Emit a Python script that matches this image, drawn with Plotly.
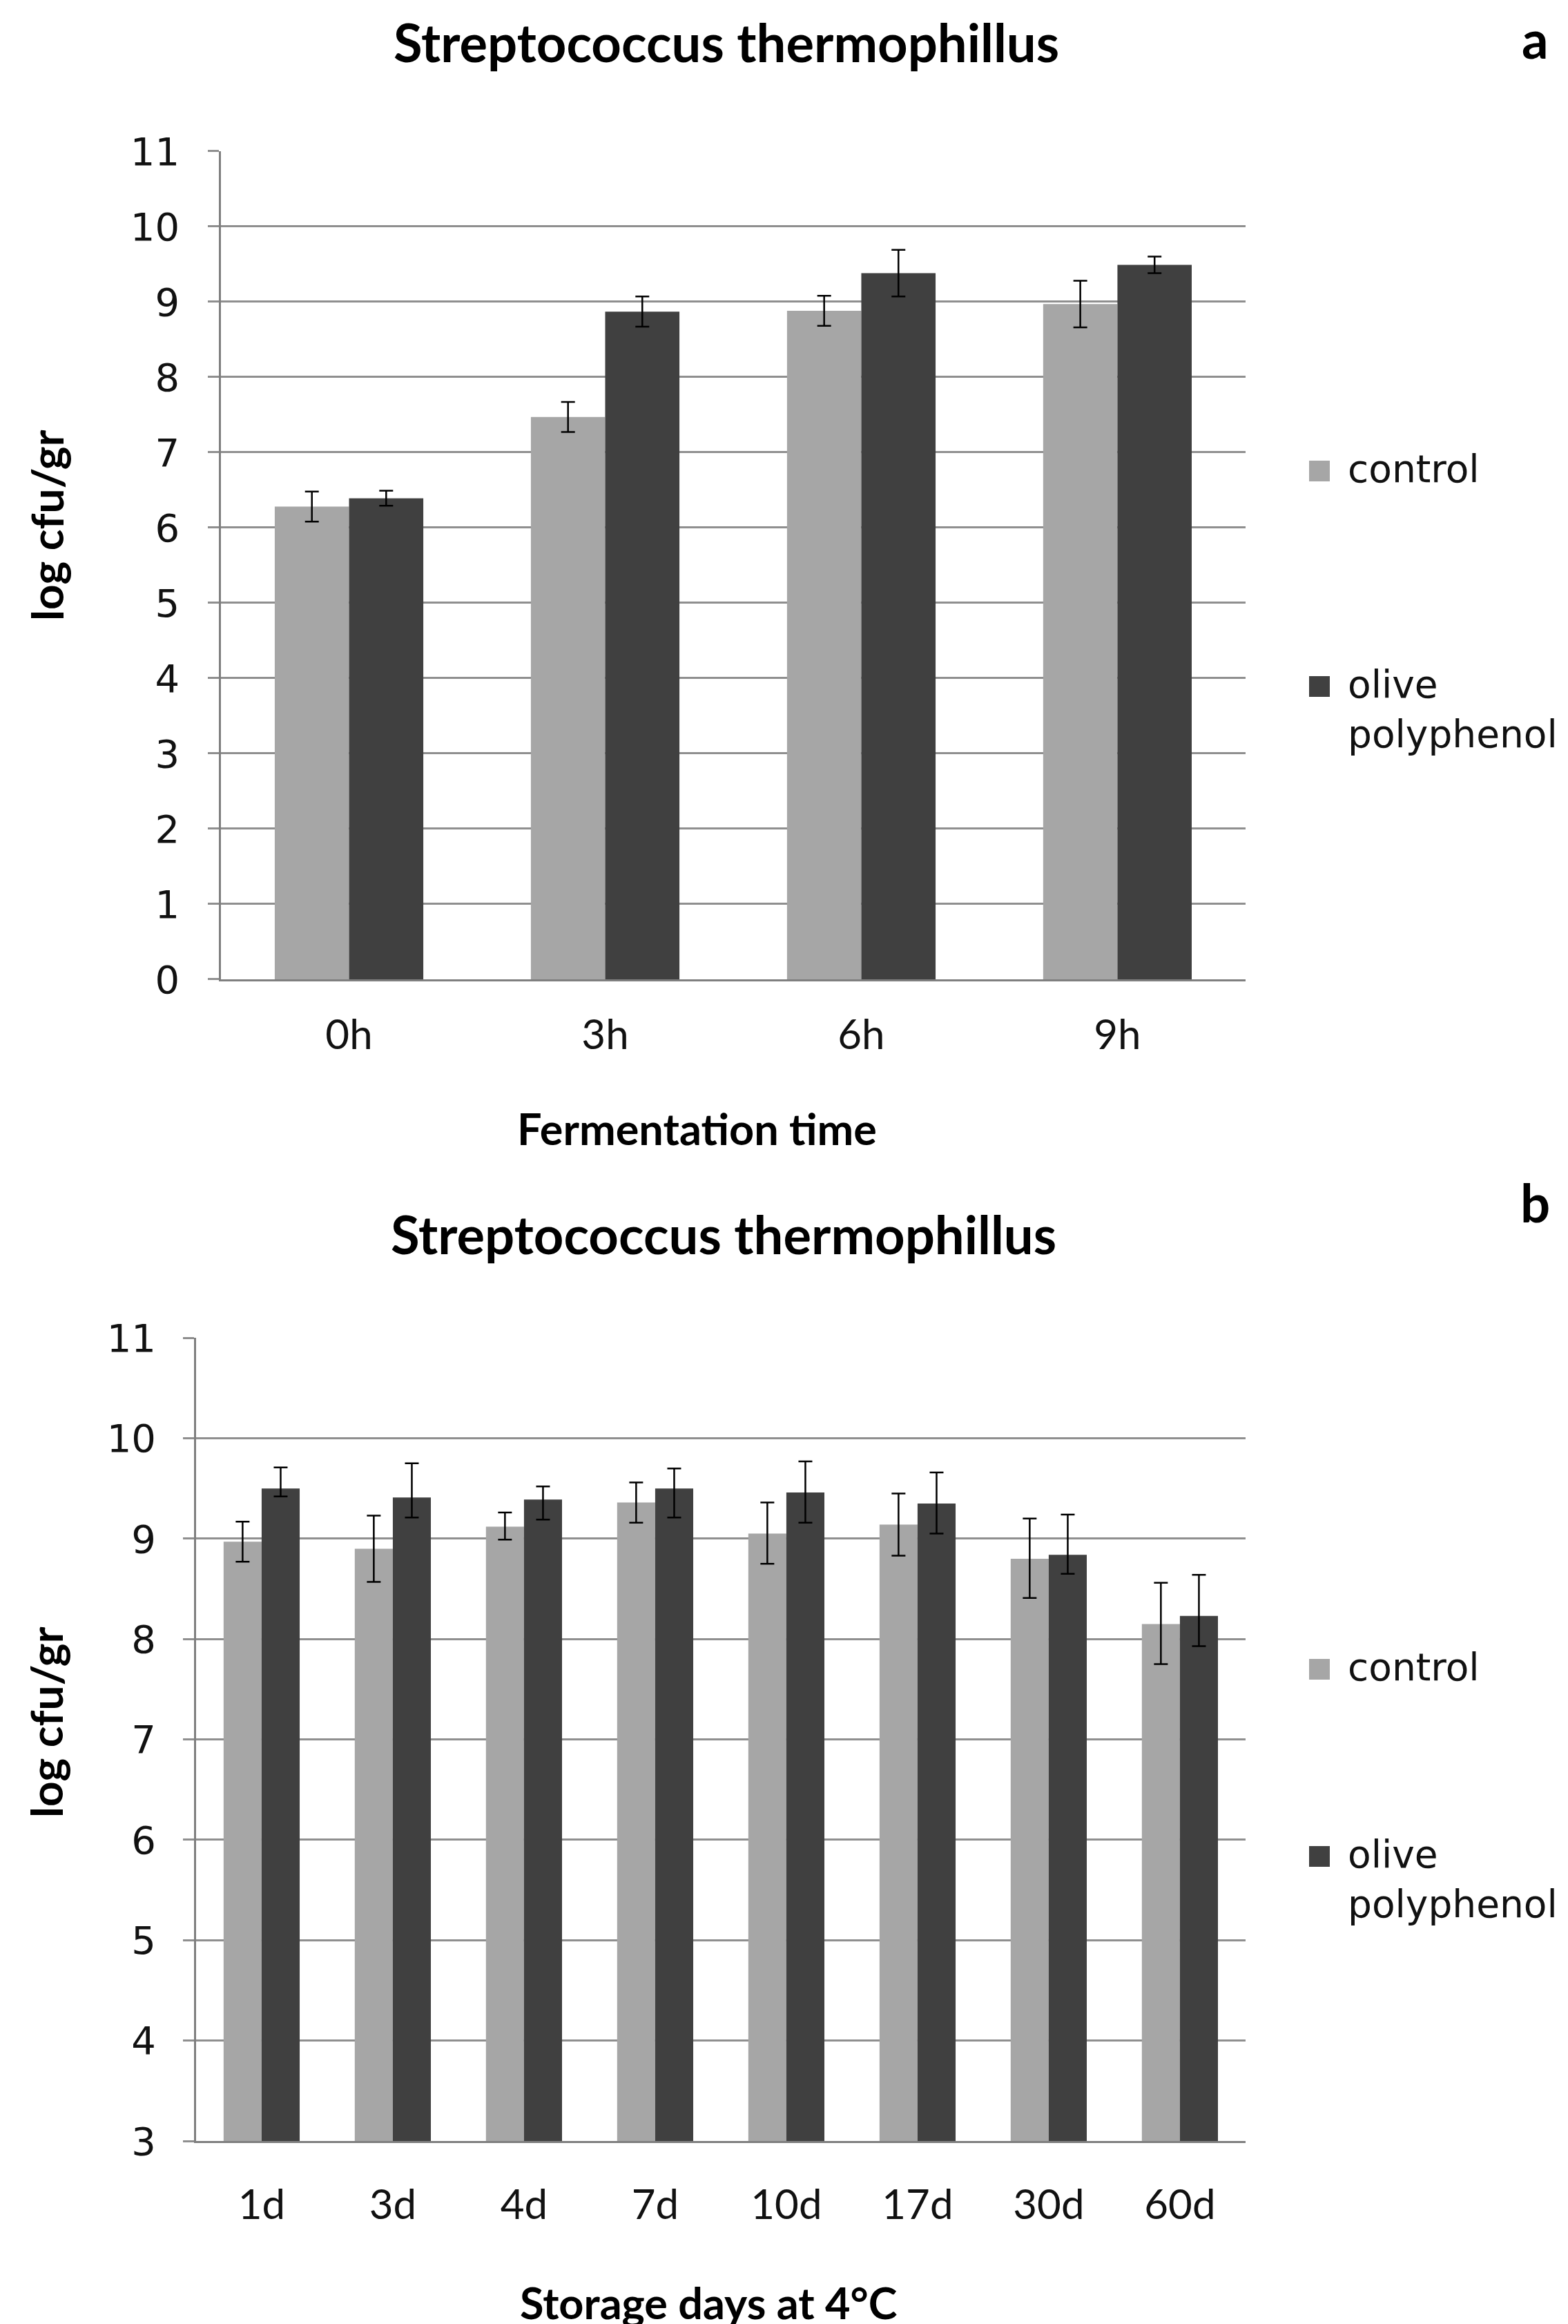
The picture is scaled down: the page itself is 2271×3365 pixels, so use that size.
import plotly.graph_objects as go

# ---------------- data ----------------
fermentation_times = ["0h", "3h", "6h", "9h"]
ferm_control = [6.28, 7.47, 8.88, 8.97]
ferm_control_err = [0.20, 0.20, 0.20, 0.31]
ferm_olive = [6.39, 8.87, 9.38, 9.49]
ferm_olive_err = [0.10, 0.20, 0.31, 0.11]

storage_days = ["1d", "3d", "4d", "7d", "10d", "17d", "30d", "60d"]
stor_control = [8.97, 8.90, 9.12, 9.36, 9.05, 9.14, 8.80, 8.15]
stor_control_err_plus = [0.20, 0.33, 0.14, 0.20, 0.31, 0.31, 0.40, 0.41]
stor_control_err_minus = [0.20, 0.33, 0.13, 0.20, 0.30, 0.31, 0.39, 0.40]
stor_olive = [9.50, 9.41, 9.39, 9.50, 9.46, 9.35, 8.84, 8.23]
stor_olive_err_plus = [0.21, 0.34, 0.13, 0.20, 0.31, 0.31, 0.40, 0.41]
stor_olive_err_minus = [0.08, 0.20, 0.20, 0.29, 0.30, 0.30, 0.19, 0.30]

series_names = ["control", "olive<br>polyphenol"]
series_colors = ["#a6a6a6", "#404040"]

panel_title = "Streptococcus thermophillus"
y_title = "log cfu/gr"
x_title_a = "Fermentation time"
x_title_b = "Storage days at 4°C"

# ---------------- styling ----------------
W, H = 2271, 3365
NARROW = "Liberation Sans Narrow, Arial Narrow, Lato, sans-serif"
WIDE = "DejaVu Sans, Verdana, sans-serif"
GRID = "#8f8f8f"
AXIS = "#7f7f7f"
TXT = "#111111"

def err(plus, minus=None):
    d = dict(type="data", array=plus, color="black", thickness=2.5, width=10)
    if minus is not None:
        d.update(symmetric=False, arrayminus=minus)
    return d

fig = go.Figure()

# panel a
fig.add_trace(go.Bar(x=fermentation_times, y=ferm_control, name=series_names[0],
                     marker=dict(color=series_colors[0], line=dict(width=0)),
                     error_y=err(ferm_control_err), xaxis="x", yaxis="y",
                     showlegend=False))
fig.add_trace(go.Bar(x=fermentation_times, y=ferm_olive, name=series_names[1],
                     marker=dict(color=series_colors[1], line=dict(width=0)),
                     error_y=err(ferm_olive_err), xaxis="x", yaxis="y",
                     showlegend=False))
# panel b
fig.add_trace(go.Bar(x=storage_days, y=stor_control, name=series_names[0],
                     marker=dict(color=series_colors[0], line=dict(width=0)),
                     error_y=err(stor_control_err_plus, stor_control_err_minus),
                     xaxis="x2", yaxis="y2", showlegend=False))
fig.add_trace(go.Bar(x=storage_days, y=stor_olive, name=series_names[1],
                     marker=dict(color=series_colors[1], line=dict(width=0)),
                     error_y=err(stor_olive_err_plus, stor_olive_err_minus),
                     xaxis="x2", yaxis="y2", showlegend=False))

xaxis_common = dict(showline=True, linecolor=AXIS, linewidth=2.5, ticks="",
                    showgrid=False, zeroline=False,
                    tickfont=dict(family=NARROW, size=60, color=TXT))
yaxis_common = dict(showline=True, linecolor=AXIS, linewidth=2.5, dtick=1,
                    showgrid=True, gridcolor=GRID, gridwidth=2.5, zeroline=False,
                    ticks="outside", ticklen=16, tickcolor=GRID, tickwidth=2.5,
                    tickfont=dict(family=WIDE, size=56, color=TXT))

fig.update_layout(
    width=W, height=H,
    margin=dict(l=0, r=0, t=0, b=0),
    paper_bgcolor="white", plot_bgcolor="white",
    template="none",
    barmode="group", bargap=0.42, bargroupgap=0,
    showlegend=False,
    xaxis=dict(domain=[0.1374, 0.7908], anchor="y", ticklabelstandoff=26, **xaxis_common),
    yaxis=dict(domain=[0.5810, 0.9373], anchor="x", range=[0, 11],
               ticklabelstandoff=30, **yaxis_common),
    xaxis2=dict(domain=[0.1215, 0.7908], anchor="y2", ticklabelstandoff=38, **xaxis_common),
    yaxis2=dict(domain=[0.0811, 0.4267], anchor="x2", range=[3, 11],
                ticklabelstandoff=28, **yaxis_common),
)

def ann(text, x, y, size, bold=True, angle=0, family=NARROW,
        xanchor="center", yanchor="middle", align="center"):
    fig.add_annotation(text=f"<b>{text}</b>" if bold else text, x=x, y=y,
                       xref="paper", yref="paper", showarrow=False,
                       xanchor=xanchor, yanchor=yanchor, textangle=angle, align=align,
                       font=dict(family=family, size=size, color="black"))

# panel titles and labels
ann(panel_title, 1044 / W, 1 - 53 / H, 76)
ann("a", 2215 / W, 1.0, 76, yanchor="top")
ann(panel_title, 1040 / W, 1 - 1778 / H, 76)
ann("b", 2215 / W, 1 - 1733 / H, 76)
# axis titles
ann(x_title_a, 1001 / W, 1 - 1625 / H, 63)
ann(x_title_b, 1018 / W, 0.0, 63, yanchor="bottom")
ann(y_title, 60 / W, 1 - 753 / H, 64, angle=-90)
ann(y_title, 58 / W, 1 - 2486 / H, 64, angle=-90)

# legends (swatch + label, one block per panel)
legend_blocks = [
    # (swatch top y for control, swatch top y for olive) in figure px
    (659, 971),
    (2394, 2665),
]
SW = 30
for ctrl_top, olive_top in legend_blocks:
    for name, color, top in zip(series_names, series_colors, (ctrl_top, olive_top)):
        fig.add_shape(type="rect", xref="paper", yref="paper",
                      x0=1888 / W, x1=(1888 + SW) / W,
                      y0=1 - (top + SW) / H, y1=1 - top / H,
                      fillcolor=color, line=dict(width=0))
        fig.add_annotation(text=name, x=1942 / W, y=1 - (top - 22) / H,
                           xref="paper", yref="paper", showarrow=False,
                           xanchor="left", yanchor="top", align="left",
                           font=dict(family=WIDE, size=55, color=TXT))

fig.write_html("out.html")
